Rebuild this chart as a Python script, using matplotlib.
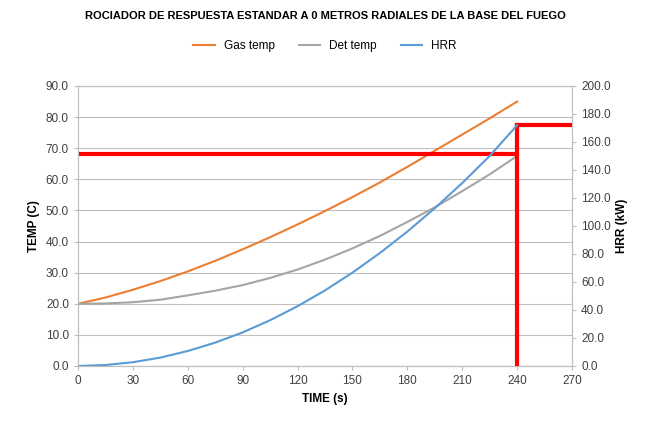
import matplotlib
matplotlib.use("Agg")
import matplotlib.pyplot as plt
plt.rcParams['font.family'] = ['Liberation Sans', 'DejaVu Sans']

time_s = [0, 15, 30, 45, 60, 75, 90, 105, 120, 135, 150, 165, 180, 195, 210, 225, 240]
gas_temp = [20.0, 22.0, 24.5, 27.3, 30.4, 33.8, 37.5, 41.4, 45.5, 49.8, 54.3, 59.0, 64.0, 69.2, 74.4, 79.6, 85.0]
det_temp = [20.0, 20.1, 20.5, 21.3, 22.7, 24.2, 26.0, 28.3, 31.0, 34.2, 37.8, 41.8, 46.3, 51.0, 56.2, 61.6, 67.5]
hrr_kw = [0.0, 0.7, 2.7, 6.0, 10.7, 16.7, 24.0, 32.7, 42.7, 54.0, 66.7, 80.7, 96.0, 112.7, 130.7, 150.0, 172.0]

act_time = 240
act_temp = 68.0
act_hrr_left = 77.6

fig = plt.figure(figsize=(6.5, 4.24), dpi=100)
ax = fig.add_axes([78/650, 1-366/424, 494/650, 280/424])
ax2 = ax.twinx()

ax.plot(time_s, gas_temp, color="#ED7D31", lw=1.5, label="Gas temp")
ax.plot(time_s, det_temp, color="#A5A5A5", lw=1.5, label="Det temp")
ax2.plot(time_s, hrr_kw, color="#5B9BD5", lw=1.5, label="HRR")

ax.plot([0, act_time], [act_temp, act_temp], color="#FF0000", lw=3, zorder=5)
ax.plot([act_time, act_time], [0, act_hrr_left], color="#FF0000", lw=3, zorder=5)
ax.plot([act_time, 270], [act_hrr_left, act_hrr_left], color="#FF0000", lw=3, zorder=5)

ax.set_xlim(0, 270); ax.set_ylim(0, 90); ax2.set_ylim(0, 200)
ax.set_xticks(range(0, 271, 30))
ax.set_yticks(range(0, 91, 10)); ax.set_yticklabels([f"{v:.1f}" for v in range(0, 91, 10)])
ax2.set_yticks(range(0, 201, 20)); ax2.set_yticklabels([f"{v:.1f}" for v in range(0, 201, 20)])
ax.grid(axis="y", color="#BFBFBF", lw=0.8)
ax.set_axisbelow(True)
for a in (ax, ax2):
    a.tick_params(labelsize=8.5, length=3, color="#BFBFBF", labelcolor="#404040")
    for s in a.spines.values():
        s.set_color("#BFBFBF")
ax.set_xlabel("TIME (s)", fontsize=8.5, fontweight="bold")
ax.set_ylabel("TEMP (C)", fontsize=8.5, fontweight="bold")
ax2.set_ylabel("HRR (kW)", fontsize=8.5, fontweight="bold")
fig.suptitle("ROCIADOR DE RESPUESTA ESTANDAR A 0 METROS RADIALES DE LA BASE DEL FUEGO",
             fontsize=8, fontweight="bold", y=0.975)
h1, l1 = ax.get_legend_handles_labels(); h2, l2 = ax2.get_legend_handles_labels()
fig.legend(h1 + h2, l1 + l2, loc="center", bbox_to_anchor=(0.5, 1 - 46/424), ncol=3,
           frameon=False, fontsize=8.5, handlelength=1.8)
fig.savefig("out.png", dpi=100)
